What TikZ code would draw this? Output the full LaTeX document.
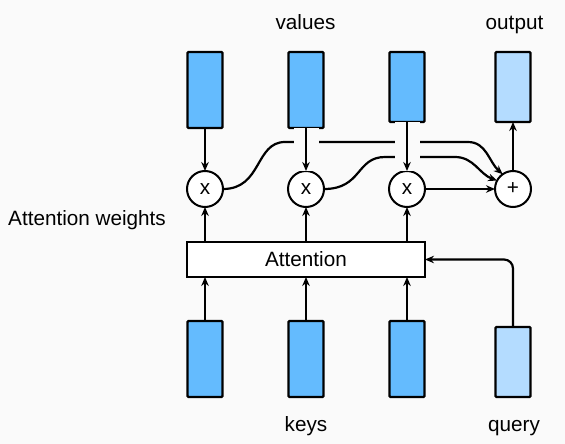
\documentclass[tikz,border=0pt]{standalone}
\usepackage{fontspec}
\setmainfont{Liberation Sans}
\usetikzlibrary{arrows.meta}
\definecolor{bg}{RGB}{250,250,250}
\definecolor{vblue}{RGB}{100,187,254}
\definecolor{lblue}{RGB}{180,220,255}
\begin{document}
\begin{tikzpicture}[x=1pt,y=-1pt,
  font=\fontsize{20.7}{24}\selectfont,
  vec/.style={draw=black, line width=2.2pt, fill=vblue, minimum width=35pt, minimum height=76pt, inner sep=0pt, outer sep=0pt, rounded corners=1pt},
  shortvec/.style={vec, minimum height=70pt},
  lightvec/.style={shortvec, fill=lblue},
  op/.style={circle, draw=black, line width=2pt, fill=white, minimum size=36pt, inner sep=0pt, outer sep=0pt},
  attbox/.style={draw=black, line width=2.2pt, fill=white, minimum width=238pt, minimum height=35pt, inner sep=0pt, outer sep=0pt},
  conn/.style={line width=2.2pt, draw=black},
  arr/.style={conn, -{Stealth[length=9pt,width=7.5pt]}},
  halo/.style={preaction={draw=bg, line width=25pt, -}},
  lbl/.style={anchor=base, inner sep=0pt}
]
\fill[bg] (0,0) rectangle (565,444);
\useasboundingbox (0,0) rectangle (565,444);

% vectors
\node[vec] (v1) at (205,90) {};
\node[vec] (v2) at (306,90) {};
\node[shortvec] (v3) at (407,87) {};
\node[lightvec] (out) at (513,87) {};
\node[vec] (k1) at (205,359) {};
\node[vec] (k2) at (306,359) {};
\node[vec] (k3) at (407,359) {};
\node[lightvec] (query) at (513,362) {};

% operations
\node[op] (m1) at (205,189) {x};
\node[op] (m2) at (306,189) {x};
\node[op] (m3) at (407,189) {x};
\node[op] (plus) at (513,189) {+};

\node[attbox] (att) at (306,259.5) {Attention};

% labels
\node[lbl] (lv) at (305.5,30) {values};
\node[lbl] (lo) at (514.5,30) {output};
\node[lbl] (lk) at (306,431) {keys};
\node[lbl] (lq) at (514,431) {query};
\node[lbl, anchor=base west] (lw) at (8,225) {Attention weights};

% weighted values to sum
\coordinate (c1a) at (285,142);
\coordinate (c1b) at (468,142);
\coordinate (c2a) at (385,157);
\coordinate (c2b) at (455,157);
\draw[arr] (m1.east) .. controls (262,189) and (255,142) .. (c1a) -- (c1b) to[out=0,in=138] (plus.125);
\draw[arr] (m2.east) .. controls (362,189) and (356,157) .. (c2a) -- (c2b) to[out=0,in=160] (plus.152);
\draw[arr] (m3.east) -- (plus.west);

% values into products
\draw[arr] (v1) -- (m1);
\draw[arr, halo] (v2) -- (m2);
\draw[arr, halo] (v3) -- (m3);

% sum to output
\draw[arr] (plus) -- (out);

% attention to products
\draw[arr] (att.north -| m1) -- (m1);
\draw[arr] (att.north -| m2) -- (m2);
\draw[arr] (att.north -| m3) -- (m3);

% keys to attention
\draw[arr] (k1) -- (k1 |- att.south);
\draw[arr] (k2) -- (k2 |- att.south);
\draw[arr] (k3) -- (k3 |- att.south);

% query to attention
\draw[arr, rounded corners=9pt] (query.north) |- (att.east);
\end{tikzpicture}
\end{document}
